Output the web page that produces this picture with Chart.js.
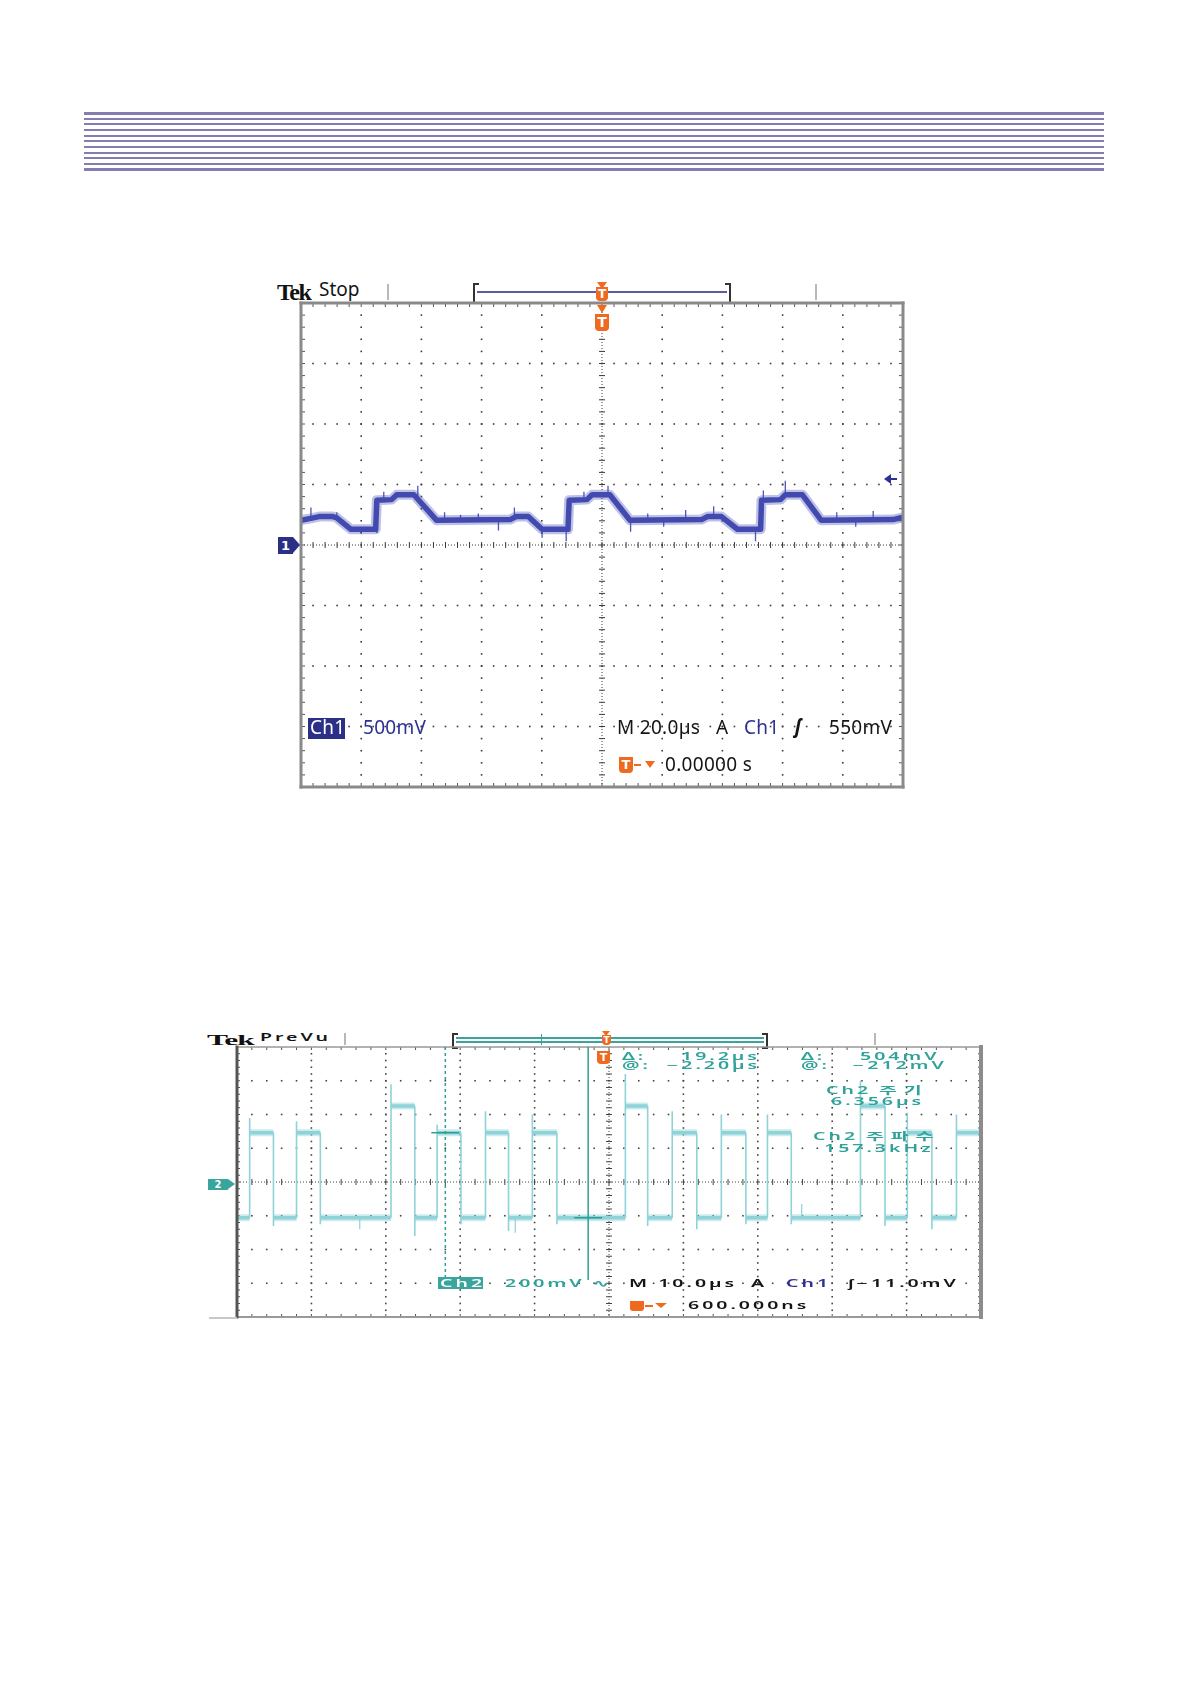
<!DOCTYPE html>
<html>
<head>
<meta charset="utf-8">
<script src="https://cdn.jsdelivr.net/npm/chart.js@4.4.1/dist/chart.umd.min.js"></script>
<style>
body{margin:0;background:#fff;}
#page{position:relative;width:1190px;height:1684px;overflow:hidden;background:#fff;}
.hl{position:absolute;left:84px;width:1020px;background:#857daf;}
.t{position:absolute;white-space:nowrap;line-height:1;font-family:"Noto Sans",sans-serif;}
.s1{font-size:19px;letter-spacing:0.3px;}
.s2{font-size:13px;font-weight:600;letter-spacing:2px;transform:scale(1.5,0.8);transform-origin:0 50%;}
.kr{font-family:"Noto Sans CJK KR",sans-serif;letter-spacing:4.5px;}
.blue{color:#2e3192;}
.teal{color:#2fa39a;}
.blk{color:#151515;}
.box{position:absolute;}
canvas{position:absolute;}
.tbox{position:absolute;background:#ef6a1f;color:#fff;font:bold 12px "DejaVu Sans",sans-serif;text-align:center;border-radius:0 0 4px 4px;}
.tri{position:absolute;width:0;height:0;border-left:5px solid transparent;border-right:5px solid transparent;border-top:7px solid #ef6a1f;}
.vsep{position:absolute;width:2px;background:#b8b8b8;}
</style>
</head>
<body>
<div id="page">
  <!-- header rules -->
  <div class="hl" style="top:112px;height:3px"></div>
  <div class="hl" style="top:118px;height:2px"></div>
  <div class="hl" style="top:123px;height:2px"></div>
  <div class="hl" style="top:129px;height:2px"></div>
  <div class="hl" style="top:135px;height:2px"></div>
  <div class="hl" style="top:140px;height:2px"></div>
  <div class="hl" style="top:146px;height:2px"></div>
  <div class="hl" style="top:152px;height:2px"></div>
  <div class="hl" style="top:157px;height:2px"></div>
  <div class="hl" style="top:163px;height:2px"></div>
  <div class="hl" style="top:168px;height:3px"></div>

  <!-- scope 1 header -->
  <div class="t" style="left:277px;top:279px;font:bold 24px 'Liberation Serif',serif;letter-spacing:-1.5px;color:#111">Tek</div>
  <div class="t blk" style="left:319px;top:280px;font-size:19px">Stop</div>
  <div class="vsep" style="left:387px;top:284px;height:16px"></div>
  <div class="box" style="left:473px;top:283px;width:4px;height:17px;border:2px solid #333;border-right:none"></div>
  <div class="box" style="left:725px;top:283px;width:4px;height:17px;border:2px solid #333;border-left:none"></div>
  <div class="box" style="left:477px;top:291px;width:250px;height:2px;background:#5d5ca3"></div>
  <div class="tri" style="left:597px;top:282px"></div>
  <div class="tbox" style="left:596px;top:287px;width:12px;height:14px;line-height:14px">T</div>
  <div class="vsep" style="left:815px;top:284px;height:16px"></div>

  <canvas id="scope1" width="610" height="492" style="left:297px;top:299px"></canvas>

  <div class="tri" style="left:597px;top:305px;border-top-width:8px"></div>
  <div class="tbox" style="left:595px;top:314px;width:14px;height:17px;line-height:17px;font-size:14px">T</div>
  <div class="box" style="left:884px;top:474px;width:0;height:0;border-top:5px solid transparent;border-bottom:5px solid transparent;border-right:7px solid #2e3192"></div>
  <div class="box" style="left:890px;top:478px;width:7px;height:2px;background:#2e3192"></div>
  <div class="box" style="left:278px;top:537px;width:15px;height:17px;background:#2b2f86;color:#fff;font:bold 13px 'DejaVu Sans',sans-serif;line-height:17px;text-align:center">1</div>
  <div class="box" style="left:293px;top:537px;width:0;height:0;border-top:8.5px solid transparent;border-bottom:8.5px solid transparent;border-left:7px solid #2b2f86"></div>

  <div class="box" style="left:308px;top:718px;width:37px;height:21px;background:#2b2f86"></div>
  <div class="t s1" style="left:310px;top:718px;color:#fff">Ch1</div>
  <div class="t s1 blue" style="left:363px;top:718px">500mV</div>
  <div class="t s1 blk" style="left:617px;top:718px">M 20.0µs</div>
  <div class="t s1 blk" style="left:716px;top:718px">A</div>
  <div class="t s1 blue" style="left:744px;top:718px">Ch1</div>
  <div class="t s1 blk" style="left:795px;top:717px;font-style:italic;font-weight:bold">ʃ</div>
  <div class="t s1 blk" style="left:829px;top:718px">550mV</div>
  <div class="box" style="left:619px;top:757px;width:14px;height:16px;background:#ef6a1f;border-radius:0 0 4px 4px;color:#fff;font:bold 13px 'DejaVu Sans',sans-serif;text-align:center;line-height:16px">T</div>
  <div class="box" style="left:634px;top:764px;width:7px;height:2px;background:#ef6a1f"></div>
  <div class="tri" style="left:645px;top:761px;border-top-width:7px"></div>
  <div class="t s1 blk" style="left:665px;top:755px">0.00000 s</div>

  <!-- scope 2 header -->
  <div class="t" style="left:207px;top:1030px;font:bold 18px 'Liberation Serif',serif;letter-spacing:-0.5px;color:#111;transform:scale(1.75,0.85);transform-origin:0 50%">Tek</div>
  <div class="t s2 blk" style="left:260px;top:1031px">PreVu</div>
  <div class="vsep" style="left:344px;top:1033px;height:12px"></div>
  <div class="box" style="left:452px;top:1033px;width:4px;height:12px;border:2px solid #333;border-right:none"></div>
  <div class="box" style="left:762px;top:1033px;width:4px;height:12px;border:2px solid #333;border-left:none"></div>
  <div class="box" style="left:456px;top:1037px;width:308px;height:1.5px;background:#3aa59c"></div>
  <div class="box" style="left:456px;top:1041px;width:308px;height:1.5px;background:#3aa59c"></div>
  <div class="box" style="left:541px;top:1034px;width:1px;height:11px;border-left:1px dashed #3aa59c"></div>
  <div class="tri" style="left:602px;top:1031px;border-left-width:4px;border-right-width:4px;border-top-width:5px"></div>
  <div class="tbox" style="left:602px;top:1035px;width:9px;height:10px;line-height:10px;font-size:9px">T</div>
  <div class="vsep" style="left:874px;top:1033px;height:12px"></div>

  <canvas id="scope2" width="752" height="278" style="left:233px;top:1043px"></canvas>
  <div class="box" style="left:209px;top:1317px;width:28px;height:1.5px;background:#c8c8c8"></div>

  <div class="box" style="left:597px;top:1051px;width:13px;height:13px;background:#ef6a1f;border-radius:0 0 4px 4px;color:#fff;font:bold 11px 'DejaVu Sans',sans-serif;text-align:center;line-height:13px">T</div>
  <div class="t s2 teal" style="left:622px;top:1050px">Δ:</div>
  <div class="t s2 teal" style="left:681px;top:1050px">19.2µs</div>
  <div class="t s2 teal" style="left:622px;top:1059px">@:</div>
  <div class="t s2 teal" style="left:667px;top:1059px">−2.20µs</div>
  <div class="t s2 teal" style="left:801px;top:1050px">Δ:</div>
  <div class="t s2 teal" style="left:860px;top:1050px">504mV</div>
  <div class="t s2 teal" style="left:801px;top:1059px">@:</div>
  <div class="t s2 teal" style="left:853px;top:1059px">−212mV</div>
  <div class="t s2 teal" style="left:826px;top:1083px">Ch2 <span class="kr">주기</span></div>
  <div class="t s2 teal" style="left:831px;top:1095px">6.356µs</div>
  <div class="t s2 teal" style="left:813px;top:1129px">Ch2 <span class="kr">주파수</span></div>
  <div class="t s2 teal" style="left:824px;top:1142px">157.3kHz</div>

  <div class="box" style="left:208px;top:1179px;width:20px;height:11px;background:#3aa59c;color:#fff;font:bold 10px 'DejaVu Sans',sans-serif;line-height:11px;text-align:center">2</div>
  <div class="box" style="left:228px;top:1179px;width:0;height:0;border-top:5.5px solid transparent;border-bottom:5.5px solid transparent;border-left:7px solid #3aa59c"></div>

  <div class="box" style="left:438px;top:1277px;width:45px;height:12px;background:#3aa59c"></div>
  <div class="t s2" style="left:440px;top:1277px;color:#fff">Ch2</div>
  <div class="t s2 teal" style="left:505px;top:1277px">200mV ∿</div>
  <div class="t s2 blk" style="left:629px;top:1277px">M 10.0µs</div>
  <div class="t s2 blk" style="left:751px;top:1277px">A</div>
  <div class="t s2 blue" style="left:786px;top:1277px">Ch1</div>
  <div class="t s2 blk" style="left:848px;top:1277px">ʃ−11.0mV</div>
  <div class="box" style="left:630px;top:1301px;width:14px;height:10px;background:#ef6a1f;border-radius:0 0 3px 3px"></div>
  <div class="box" style="left:645px;top:1305px;width:8px;height:1.5px;background:#ef6a1f"></div>
  <div class="tri" style="left:655px;top:1303px;border-left-width:6px;border-right-width:6px;border-top-width:5px"></div>
  <div class="t s2 blk" style="left:688px;top:1299px">600.000ns</div>
</div>

<script>
// ---- Scope 1 : Ch1, 500 mV/div, 20 us/div (time in us, level in V)
const ch1Time = [-100, -96.7, -94.0, -89.4, -88.1, -83.4, -75.2, -74.8, -69.9, -68.2, -62.5, -55.0,
  -30.5, -28.5, -24.5, -19.9, -11.3, -10.9, -5.0, -3.3, 2.6, 9.3,
  33.1, 35.1, 39.7, 45.0, 52.7, 53.0, 59.3, 60.9, 66.6, 72.8, 96.7, 99.3, 100];
const ch1Volt = [0.205, 0.22, 0.235, 0.235, 0.225, 0.13, 0.13, 0.37, 0.375, 0.415, 0.415, 0.205,
  0.21, 0.235, 0.235, 0.13, 0.13, 0.37, 0.375, 0.415, 0.415, 0.205,
  0.21, 0.235, 0.235, 0.13, 0.13, 0.37, 0.375, 0.415, 0.415, 0.205, 0.21, 0.225, 0.225];
// noise spikes: time, bottom, top
const ch1SpikeTime = [-96.7, -88.1, -80.2, -74.8, -72.5, -61.2, -52.3, -47.0, -41.1, -34.4, -29.1, -19.9, -11.9, -6.0, 2.0, 9.5,
  15.2, 20.5, 27.8, 37.1, 51.0, 53.6, 60.9, 78.0, 84.3, 90.1];
const ch1SpikeLow  = [0.20, 0.21, 0.10, 0.10, 0.36, 0.40, 0.20, 0.20, 0.20, 0.12, 0.23, 0.06, 0.03, 0.37, 0.40, 0.11,
  0.20, 0.15, 0.20, 0.23, 0.03, 0.36, 0.40, 0.20, 0.15, 0.20];
const ch1SpikeHigh = [0.31, 0.27, 0.13, 0.37, 0.44, 0.49, 0.27, 0.25, 0.26, 0.205, 0.31, 0.13, 0.13, 0.44, 0.49, 0.205,
  0.26, 0.205, 0.29, 0.32, 0.13, 0.45, 0.53, 0.27, 0.205, 0.28];

// ---- Scope 2 : Ch2, 200 mV/div, 10 us/div, trigger 600 ns right of centre
const ch2Start = -49.4, ch2End = 50.6, ch2StartLevel = -0.212;
const ch2EdgeTime = [-47.7, -44.5, -41.4, -38.2, -28.7, -25.5, -22.5, -19.3, -16.0, -12.9, -9.7, -6.4,
  2.8, 5.8, 9.1, 12.4, 15.7, 19.0, 21.9, 25.1, 34.4, 37.7, 40.7, 44.0, 47.3];
const ch2Level = [0.292, -0.212, 0.292, -0.212, 0.45, -0.212, 0.292, -0.212, 0.292, -0.212, 0.292, -0.212,
  0.45, -0.212, 0.292, -0.212, 0.292, -0.212, 0.292, -0.212, 0.45, -0.212, 0.292, -0.212, 0.292];
const ch2EdgePeak = [0.38, -0.26, 0.36, -0.25, 0.58, -0.32, 0.34, -0.25, 0.42, -0.29, 0.40, -0.25,
  0.64, -0.26, 0.42, -0.28, 0.40, -0.25, 0.40, -0.25, 0.60, -0.26, 0.41, -0.28, 0.40];
const ch2SpikeTime = [-32.9, -12.0, 26.5];
const ch2SpikeLow  = [-0.28, -0.30, -0.21];
const ch2SpikeHigh = [-0.21, -0.21, -0.13];
// cursors (us) and the levels they read
const cursorTime = [-21.4, -2.2];
const cursorLevel = [0.292, -0.212];

function spikeData(t, lo, hi) {
  const d = [];
  t.forEach((v, i) => { d.push({x: v, y: lo[i]}, {x: v, y: hi[i]}, {x: v, y: null}); });
  return d;
}

function graticule(o) {
  return {
    id: 'graticule',
    beforeDatasetsDraw(chart) {
      const {ctx, chartArea: a, scales: {x, y}} = chart;
      const nx = 10, ny = 8;
      const sx = (x.max - x.min) / nx, sy = (y.max - y.min) / ny;
      const px = v => x.getPixelForValue(v), py = v => y.getPixelForValue(v);
      const line = (x1, y1, x2, y2) => { ctx.beginPath(); ctx.moveTo(x1, y1); ctx.lineTo(x2, y2); ctx.stroke(); };
      ctx.save();
      ctx.fillStyle = o.dot;
      for (let i = 1; i < nx; i++) {
        if (i === nx / 2) continue;
        const gx = px(x.min + i * sx);
        for (let j = 1; j < ny * 5; j++) ctx.fillRect(gx - 0.8, py(y.min + j * sy / 5) - 0.8, 1.6, 1.6);
      }
      for (let j = 1; j < ny; j++) {
        if (j === ny / 2) continue;
        const gy = py(y.min + j * sy);
        for (let i = 1; i < nx * 5; i++) ctx.fillRect(px(x.min + i * sx / 5) - 0.8, gy - 0.8, 1.6, 1.6);
      }
      const cx = px(x.min + sx * nx / 2), cy = py(y.min + sy * ny / 2);
      ctx.strokeStyle = o.dot;
      ctx.lineWidth = 1;
      ctx.setLineDash([1, 2]);
      line(cx, a.top, cx, a.bottom);
      line(a.left, cy, a.right, cy);
      ctx.setLineDash([]);
      for (let j = 1; j < ny * 5; j++) { const v = py(y.min + j * sy / 5); line(cx - 3, v, cx + 3, v); }
      for (let i = 1; i < nx * 5; i++) { const v = px(x.min + i * sx / 5); line(v, cy - 3, v, cy + 3); }
      // ticks along the frame
      ctx.strokeStyle = o.tick;
      for (let i = 1; i < nx * 5; i++) {
        const v = px(x.min + i * sx / 5);
        line(v, a.top, v, a.top + o.tl);
        line(v, a.bottom, v, a.bottom - o.tl);
      }
      for (let j = 1; j < ny * 5; j++) {
        const v = py(y.min + j * sy / 5);
        line(a.left, v, a.left + o.tl, v);
        line(a.right, v, a.right - o.tl, v);
      }
      ctx.restore();
    },
    afterDatasetsDraw(chart) {
      const {ctx, chartArea: a} = chart;
      const side = (w, c, x1, y1, x2, y2) => {
        ctx.lineWidth = w; ctx.strokeStyle = c;
        ctx.beginPath(); ctx.moveTo(x1, y1); ctx.lineTo(x2, y2); ctx.stroke();
      };
      ctx.save();
      ctx.lineCap = 'square';
      side(o.frame.top[0], o.frame.top[1], a.left, a.top, a.right, a.top);
      side(o.frame.bottom[0], o.frame.bottom[1], a.left, a.bottom, a.right, a.bottom);
      side(o.frame.left[0], o.frame.left[1], a.left, a.top, a.left, a.bottom);
      side(o.frame.right[0], o.frame.right[1], a.right, a.top, a.right, a.bottom);
      ctx.restore();
    }
  };
}

const cursors = {
  id: 'cursors',
  afterDatasetsDraw(chart) {
    const {ctx, scales: {x, y}, chartArea: a} = chart;
    ctx.save();
    ctx.strokeStyle = '#2f9f96';
    ctx.lineWidth = 1.5;
    cursorTime.forEach((t, i) => {
      const cx = x.getPixelForValue(t);
      ctx.setLineDash(i === 0 ? [3, 3] : []);
      ctx.beginPath(); ctx.moveTo(cx, a.top); ctx.lineTo(cx, y.getPixelForValue(-0.58)); ctx.stroke();
      ctx.setLineDash([]);
      const cy = y.getPixelForValue(cursorLevel[i]);
      ctx.beginPath(); ctx.moveTo(cx - 14, cy); ctx.lineTo(cx + 14, cy); ctx.stroke();
    });
    ctx.restore();
  }
};

const common = {
  responsive: false,
  animation: false,
  events: [],
  layout: {padding: 4},
  plugins: {legend: {display: false}, tooltip: {enabled: false}}
};

const ch1Pts = ch1Time.map((t, i) => ({x: t, y: ch1Volt[i]}));

new Chart(document.getElementById('scope1'), {
  type: 'scatter',
  data: {
    datasets: [
      {data: ch1Pts, showLine: true, borderColor: 'rgba(70,78,180,0.35)',
        borderWidth: 10, borderJoinStyle: 'round', borderCapStyle: 'round', pointRadius: 0},
      {data: ch1Pts, showLine: true, borderColor: '#4149ae',
        borderWidth: 5.5, borderJoinStyle: 'round', borderCapStyle: 'round', pointRadius: 0},
      {data: spikeData(ch1SpikeTime, ch1SpikeLow, ch1SpikeHigh), showLine: true, spanGaps: false,
        borderColor: '#4d55b8', borderWidth: 1.3, pointRadius: 0}
    ]
  },
  options: Object.assign({}, common, {
    scales: {
      x: {type: 'linear', min: -100, max: 100, display: false},
      y: {type: 'linear', min: -2, max: 2, display: false}
    }
  }),
  plugins: [graticule({dot: '#3a3a3a', tick: '#555', tl: 4,
    frame: {top: [3, '#8a8a8a'], bottom: [3, '#8a8a8a'], left: [3, '#8a8a8a'], right: [3, '#8a8a8a']}})]
});

// Ch2: thick fuzzy plateaus, thin edges with overshoot
const ch2Plateau = [];
const ch2Edge = [];
let prevLevel = ch2StartLevel, prevTime = ch2Start;
ch2EdgeTime.forEach((t, i) => {
  ch2Plateau.push({x: prevTime, y: prevLevel}, {x: t, y: prevLevel}, {x: t, y: null});
  ch2Edge.push({x: t, y: prevLevel}, {x: t, y: ch2EdgePeak[i]}, {x: t, y: null});
  prevLevel = ch2Level[i];
  prevTime = t;
});
ch2Plateau.push({x: prevTime, y: prevLevel}, {x: ch2End, y: prevLevel});

new Chart(document.getElementById('scope2'), {
  type: 'scatter',
  data: {
    datasets: [
      {data: ch2Plateau, showLine: true, spanGaps: false, borderColor: 'rgba(143,211,216,0.45)', borderWidth: 7, pointRadius: 0},
      {data: ch2Plateau, showLine: true, spanGaps: false, borderColor: '#8fd3d8', borderWidth: 3.5, pointRadius: 0},
      {data: ch2Edge, showLine: true, spanGaps: false, borderColor: '#8fd3d8', borderWidth: 1.6, pointRadius: 0},
      {data: spikeData(ch2SpikeTime, ch2SpikeLow, ch2SpikeHigh), showLine: true, spanGaps: false,
        borderColor: '#8fd3d8', borderWidth: 1.2, pointRadius: 0}
    ]
  },
  options: Object.assign({}, common, {
    scales: {
      x: {type: 'linear', min: ch2Start, max: ch2End, display: false},
      y: {type: 'linear', min: -0.8, max: 0.8, display: false}
    }
  }),
  plugins: [graticule({dot: '#444', tick: '#555', tl: 3,
    frame: {top: [1.5, '#999'], bottom: [2, '#999'], left: [3, '#555'], right: [4, '#8c8c8c']}}), cursors]
});
</script>
</body>
</html>
